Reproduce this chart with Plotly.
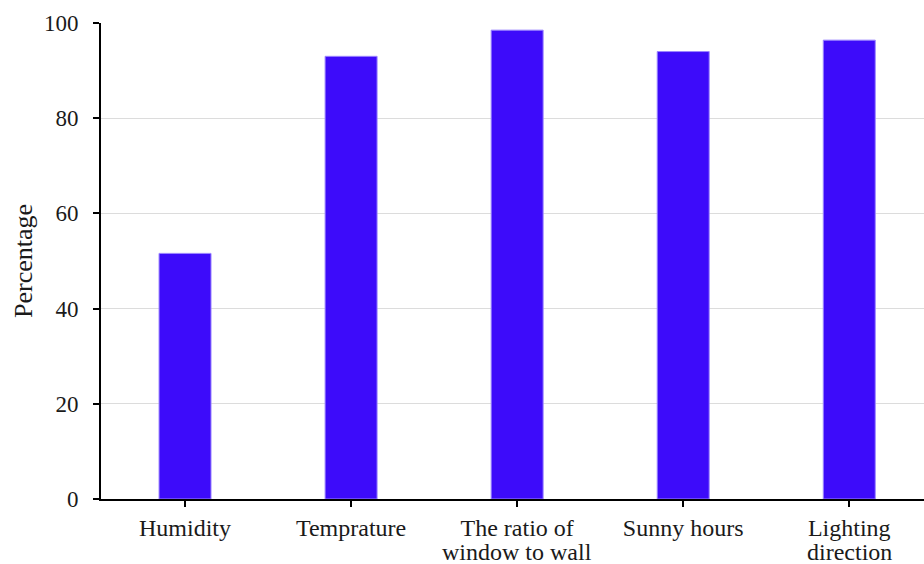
import plotly.graph_objects as go

categories = ["Humidity", "Temprature", "The ratio of", "Sunny hours", "Lighting"]
second_lines = ["", "", "window to wall", "", "direction"]
values = [51.6, 93.0, 98.5, 94.0, 96.4]
y_ticks = [0, 20, 40, 60, 80, 100]

font_family = "Liberation Serif, Times New Roman, serif"

fig = go.Figure()
fig.add_trace(go.Bar(
    x=list(range(len(categories))),
    y=values,
    width=0.313,
    marker=dict(color="#3D0BFA", line=dict(color="#9C86FF", width=1)),
))

# second line of the two-line category labels (tighter line spacing than <br>)
for i, txt in enumerate(second_lines):
    if txt:
        fig.add_annotation(x=i, y=0, xref="x", yref="y", text=txt, showarrow=False,
                           yanchor="top", yshift=-38,
                           font=dict(family=font_family, size=24, color="#1a1a1a"))

fig.update_layout(
    width=924, height=564,
    margin=dict(l=101, r=0, t=23, b=65),
    plot_bgcolor="white", paper_bgcolor="white",
    showlegend=False,
    font=dict(family=font_family, size=23, color="#1a1a1a"),
    xaxis=dict(
        range=[-0.506, 4.45],
        tickmode="array",
        tickvals=list(range(len(categories))),
        ticktext=categories,
        showline=True, linecolor="black", linewidth=2,
        ticks="outside", ticklen=6, tickwidth=1.5, tickcolor="black",
        showgrid=False, zeroline=False, automargin=False,
        tickfont=dict(family=font_family, size=24),
    ),
    yaxis=dict(
        range=[0, 100],
        tickvals=y_ticks,
        showline=True, linecolor="black", linewidth=2,
        ticks="outside", ticklen=6, tickwidth=1.5, tickcolor="black",
        ticklabelstandoff=10,
        showgrid=True, gridcolor="#DCDCDC", gridwidth=1,
        zeroline=False, automargin=False,
        title=dict(text="Percentage", font=dict(family=font_family, size=26), standoff=4),
        tickfont=dict(family=font_family, size=23),
    ),
)

fig.write_html("out.html", config={"displayModeBar": False},
               post_script="document.body.style.margin='0px';")
